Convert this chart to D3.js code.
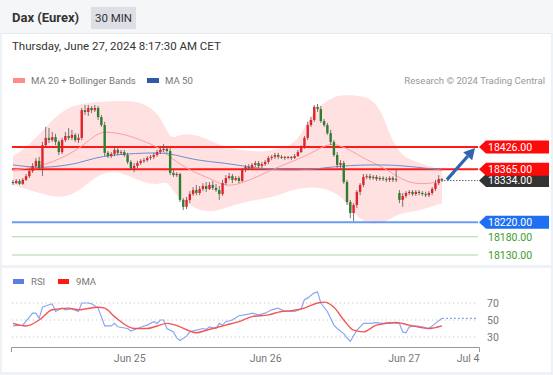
<!DOCTYPE html>
<html><head><meta charset="utf-8">
<script src="https://cdn.jsdelivr.net/npm/d3@7"></script>
<style>
html,body{margin:0;padding:0;background:#fff;}
svg{display:block;font-family:Roboto,"Liberation Sans",Arial,sans-serif;}
</style></head><body>
<svg id="c" width="553" height="375"></svg>
<script>
// ---------- DATA ----------
const title = "Dax (Eurex)";
const period = "30 MIN";
const stamp = "Thursday, June 27, 2024 8:17:30 AM CET";
const opens = [18330,18327,18333,18325,18336,18346,18360,18374,18388,18368,18431,18451,18445,18453,18440,18412,18445,18456,18451,18459,18445,18451,18527,18522,18533,18527,18533,18508,18486,18410,18401,18407,18418,18410,18412,18404,18385,18368,18374,18382,18388,18390,18396,18399,18404,18412,18418,18421,18415,18355,18349,18352,18281,18262,18281,18297,18308,18300,18311,18319,18311,18322,18314,18308,18297,18327,18341,18346,18336,18341,18333,18363,18371,18368,18377,18382,18374,18379,18385,18396,18399,18404,18399,18399,18396,18399,18396,18401,18412,18426,18451,18486,18500,18536,18530,18497,18486,18464,18440,18404,18377,18382,18330,18275,18245,18267,18303,18322,18344,18346,18341,18344,18338,18341,18338,18336,18341,18336,18300,18281,18292,18300,18303,18297,18303,18300,18297,18294,18300,18311,18327,18338];
const highs = [18336,18338,18338,18341,18352,18366,18382,18396,18399,18440,18481,18478,18467,18462,18445,18451,18467,18478,18473,18464,18462,18533,18541,18541,18538,18541,18538,18514,18495,18415,18412,18426,18423,18418,18418,18410,18390,18382,18388,18393,18396,18401,18404,18410,18418,18426,18434,18429,18423,18363,18357,18355,18286,18289,18305,18316,18322,18319,18327,18330,18330,18333,18325,18319,18336,18349,18355,18352,18346,18346,18368,18377,18379,18382,18388,18388,18385,18390,18401,18404,18410,18410,18404,18401,18401,18401,18407,18418,18431,18456,18495,18508,18541,18544,18538,18503,18492,18473,18445,18412,18390,18388,18336,18281,18272,18308,18327,18352,18352,18352,18349,18349,18346,18346,18344,18346,18346,18363,18308,18300,18305,18308,18308,18308,18308,18305,18303,18305,18316,18336,18349,18341];
const lows = [18322,18325,18322,18322,18333,18341,18355,18368,18363,18346,18426,18437,18440,18431,18404,18407,18440,18445,18445,18440,18437,18445,18514,18511,18519,18522,18500,18481,18401,18396,18396,18401,18404,18404,18399,18379,18363,18357,18368,18377,18382,18385,18390,18393,18399,18407,18412,18410,18349,18344,18344,18275,18253,18256,18272,18292,18294,18294,18305,18303,18308,18308,18303,18281,18292,18322,18336,18327,18333,18327,18330,18357,18363,18363,18371,18368,18368,18374,18379,18390,18393,18393,18393,18390,18393,18390,18393,18399,18410,18421,18445,18481,18495,18522,18492,18481,18459,18431,18399,18368,18366,18325,18267,18231,18223,18259,18294,18316,18338,18336,18336,18333,18333,18333,18330,18330,18330,18330,18272,18262,18286,18294,18292,18292,18294,18292,18289,18289,18294,18305,18322,18330];
const closes = [18327,18333,18325,18336,18346,18360,18374,18388,18368,18431,18451,18445,18453,18440,18412,18445,18456,18451,18459,18445,18451,18527,18522,18533,18527,18533,18508,18486,18410,18401,18407,18418,18410,18412,18404,18385,18368,18374,18382,18388,18390,18396,18399,18404,18412,18418,18421,18415,18355,18349,18352,18281,18262,18281,18297,18308,18300,18311,18319,18311,18322,18314,18308,18297,18327,18341,18346,18336,18341,18333,18363,18371,18368,18377,18382,18374,18379,18385,18396,18399,18404,18399,18399,18396,18399,18396,18401,18412,18426,18451,18486,18500,18536,18530,18497,18486,18464,18440,18404,18377,18382,18330,18275,18245,18267,18303,18322,18344,18346,18341,18344,18338,18341,18338,18336,18341,18336,18338,18281,18292,18300,18303,18297,18303,18300,18297,18294,18300,18311,18327,18338,18334];

const upperIdx = [0,5,10,15,20,25,30,35,40,45,48,50,55,60,65,70,75,80,85,88,90,93,95,98,100,105,110,113,115,118,120,125,131];
const upperVal = [18401,18431,18481,18527,18544,18549,18552,18552,18547,18514,18445,18459,18462,18445,18423,18418,18412,18418,18431,18459,18500,18533,18547,18563,18568,18568,18558,18514,18459,18412,18396,18379,18363];
const lowerIdx = [0,5,10,15,20,25,30,35,40,45,47,50,55,60,65,70,80,85,90,95,100,103,106,110,115,118,125,131];
const lowerVal = [18322,18308,18294,18286,18303,18344,18363,18349,18327,18322,18336,18289,18259,18245,18259,18275,18289,18308,18316,18314,18294,18259,18226,18212,18226,18245,18253,18272];
const ma20Idx = [0,10,20,25,28,35,40,45,48,55,60,65,70,75,80,85,90,95,98,103,108,113,118,122,128,131];
const ma20Val = [18363,18374,18418,18459,18470,18459,18442,18423,18396,18357,18341,18316,18327,18346,18368,18385,18404,18429,18437,18418,18390,18371,18341,18325,18325,18338];
const ma50Idx = [0,8,15,20,25,30,40,48,55,65,72,80,90,97,105,115,120,131];
const ma50Val = [18377,18368,18374,18382,18396,18404,18410,18410,18390,18382,18371,18363,18363,18371,18377,18377,18374,18363];

const levels = [18426, 18365, 18334, 18220, 18180, 18130];
const levelKinds = ["resistance","resistance","last","support","minor","minor"];

const rsiIdx = [0,3,6,7,8,9,11,12,13,14,15,16,18,20,21,23,24,26,27,28,30,31,32,35,36,38,40,41,43,44,45,46,47,49,50,51,53,54,56,58,59,60,62,63,64,65,67,69,72,73,75,77,79,81,83,86,88,89,90,92,93,94,96,98,99,101,102,103,105,106,107,109,111,113,115,118,119,120,121,123,125,127,129,131];
const rsiVal = [43,44,58,58,52,65,68,69,60,62,64,62,63,60,70,70,69,64,54,43,43,46,42,40,37,40,43,44,48,46,50,50,40,36,29,26,31,36,38,40,39,42,40,46,44,48,50,55,57,58,56,58,62,64,60,60,63,74,76,82,83,70,60,44,40,34,29,25,38,42,46,46,47,46,47,46,36,35,42,43,42,40,46,52];
const maIdx = [0,4,8,12,17,20,26,28,31,37,41,44,47,51,54,56,59,65,69,73,78,82,85,89,93,95,98,101,104,107,111,117,121,127,131];
const maVal = [46,43,50,62,64,62,65,64,54,40,40,43,46,42,37,35,38,44,48,54,56,60,61,64,70,71,65,50,38,36,44,47,44,40,43];
const rsiTicks = [70, 50, 30];

const dayLabels = ["Jun 25","Jun 26","Jun 27","Jul 4"];
const dayIdx = [35.5, 77, 119.3, 138.8];

// ---------- SCALES ----------
const svg = d3.select("#c");
const x = d3.scaleLinear().domain([-0.6, 142.3]).range([11, 479]);
const y = d3.scaleLinear().domain([18130, 18426]).range([255, 147]);
const yr = d3.scaleLinear().domain([30, 70]).range([337, 303]);

// ---------- BACKGROUND ----------
svg.append("rect").attr("width",553).attr("height",375).attr("fill","#ffffff");
svg.append("rect").attr("x",0).attr("y",0).attr("width",553).attr("height",33).attr("fill","#f5f6f8");
svg.append("line").attr("x1",0).attr("x2",553).attr("y1",33.5).attr("y2",33.5).attr("stroke","#e6e9ee");
svg.append("rect").attr("x",0).attr("y",265).attr("width",553).attr("height",3).attr("fill","#eef1f5");
svg.append("rect").attr("x",0).attr("y",372).attr("width",553).attr("height",3).attr("fill","#eef1f5");
svg.append("rect").attr("x",0).attr("y",33).attr("width",2).attr("height",342).attr("fill","#eef1f5");
svg.append("rect").attr("x",551).attr("y",33).attr("width",2).attr("height",342).attr("fill","#eef1f5");

// header
svg.append("text").attr("x",12).attr("y",22).attr("font-size",13).attr("font-weight","bold").attr("fill","#333").text(title);
svg.append("rect").attr("x",91).attr("y",7).attr("width",45).attr("height",22).attr("fill","#dcdfe5");
svg.append("text").attr("x",113.5).attr("y",22).attr("text-anchor","middle").attr("font-size",11.5).attr("fill","#333").text(period);
svg.append("text").attr("x",12).attr("y",50).attr("font-size",11.5).attr("fill","#333").text(stamp);

// legend
svg.append("rect").attr("x",13).attr("y",78).attr("width",12).attr("height",5).attr("fill","#ff8a8a");
svg.append("text").attr("x",31).attr("y",84).attr("font-size",9.6).attr("fill","#777").text("MA 20 + Bollinger Bands");
svg.append("rect").attr("x",147).attr("y",78).attr("width",12).attr("height",5).attr("fill","#2d5ba6");
svg.append("text").attr("x",165).attr("y",84).attr("font-size",9.6).attr("fill","#777").text("MA 50");
svg.append("text").attr("x",545).attr("y",84).attr("text-anchor","end").attr("font-size",9.6).attr("fill","#999").text("Research \u00a9 2024 Trading Central");

// ---------- BANDS ----------
function interp(idx, val){ return idx.map((d,i)=>({i:d, v:val[i]})); }
const up = interp(upperIdx, upperVal), lo = interp(lowerIdx, lowerVal);
const lineU = d3.line().x(d=>x(d.i)).y(d=>y(d.v)).curve(d3.curveBasis);
const pathU = lineU(up);
const pathL = lineU(lo.slice().reverse());
svg.append("path").attr("d", pathU + "L" + pathL.slice(1) + "Z").attr("fill","#ffdede").attr("opacity",0.9);

// levels (lines)
const plotL = x.range()[0]+1, plotR = x.range()[1]-1;
const lvlColor = {resistance:"#ff1a1a", last:"#333333", support:"#6a9cf5", minor:"#a8d8a0"};
const lvlWidth = {resistance:2, last:1, support:2, minor:1.2};
levels.forEach((v,k)=>{
  const kind = levelKinds[k];
  if(kind==="last") return;
  svg.append("line").attr("x1",plotL).attr("x2",plotR).attr("y1",y(v)).attr("y2",y(v))
    .attr("stroke",lvlColor[kind]).attr("stroke-width",lvlWidth[kind]);
});

// MA lines
svg.append("path").attr("d", lineU(interp(ma20Idx, ma20Val))).attr("fill","none").attr("stroke","#f7a0a0").attr("stroke-width",1);
svg.append("path").attr("d", lineU(interp(ma50Idx, ma50Val))).attr("fill","none").attr("stroke","#6f8cc8").attr("stroke-width",1);

// ---------- CANDLES ----------
const cw = 2.4;
const g = svg.append("g");
closes.forEach((c,i)=>{
  const o = opens[i], h = highs[i], l = lows[i];
  const isUp = c >= o;
  const col = isUp ? "#e3222b" : "#2f7d2f";
  g.append("line").attr("x1",x(i)).attr("x2",x(i)).attr("y1",y(h)).attr("y2",y(l)).attr("stroke","#555").attr("stroke-width",0.8);
  const top = Math.min(y(o),y(c)), hgt = Math.max(1, Math.abs(y(o)-y(c)));
  g.append("rect").attr("x",x(i)-cw/2).attr("y",top).attr("width",cw).attr("height",hgt).attr("fill",col);
});

// last price dotted line
const lastI = closes.length-1;
const lastV = levels[levelKinds.indexOf("last")];
svg.append("line").attr("x1",x(lastI)+2).attr("x2",plotR).attr("y1",y(lastV)).attr("y2",y(lastV))
  .attr("stroke","#666").attr("stroke-dasharray","1.5,1.5").attr("stroke-width",1);

// arrow
(function(){
  const x1 = x(lastI)+5, y1 = y(lastV)-1;
  const x2 = plotR-3, y2 = y(levels[0])+1;
  const ang = Math.atan2(y2-y1, x2-x1);
  const hl = 11, hw = 6;
  const bx = x2 - hl*Math.cos(ang), by = y2 - hl*Math.sin(ang);
  svg.append("line").attr("x1",x1).attr("y1",y1).attr("x2",bx).attr("y2",by).attr("stroke","#2e64b4").attr("stroke-width",3.2);
  const px = -Math.sin(ang), py = Math.cos(ang);
  svg.append("path").attr("d",`M${x2},${y2}L${bx+px*hw},${by+py*hw}L${bx-px*hw},${by-py*hw}Z`).attr("fill","#2e64b4");
})();

// level tags
const tagFill = {resistance:"#ff0a0a", last:"#333333", support:"#1f6ff2"};
const tagX = x.range()[1];
const order = [2,0,1,3,4,5];
order.forEach(k=>{
  const v = levels[k], kind = levelKinds[k], yy = y(v);
  if(tagFill[kind]){
    svg.append("path").attr("d",`M${tagX},${yy}L${tagX+7},${yy-6.5}L549,${yy-6.5}L549,${yy+6.5}L${tagX+7},${yy+6.5}Z`).attr("fill",tagFill[kind]);
    svg.append("text").attr("x",tagX+9).attr("y",yy).attr("dy","0.36em").attr("font-size",10.5).attr("fill","#fff").text(v.toFixed(2));
  } else {
    svg.append("text").attr("x",tagX+9).attr("y",yy).attr("dy","0.36em").attr("font-size",10.5).attr("fill","#3f9a2a").text(v.toFixed(2));
  }
});

// ---------- RSI PANEL ----------
svg.append("rect").attr("x",13).attr("y",279).attr("width",11).attr("height",5).attr("fill","#5b7fe6");
svg.append("text").attr("x",31).attr("y",285).attr("font-size",9.6).attr("fill","#777").text("RSI");
svg.append("rect").attr("x",58).attr("y",279).attr("width",11).attr("height",5).attr("fill","#ff1a1a");
svg.append("text").attr("x",76).attr("y",285).attr("font-size",9.6).attr("fill","#777").text("9MA");

rsiTicks.forEach(t=>{
  svg.append("line").attr("x1",plotL).attr("x2",plotR-1).attr("y1",yr(t)).attr("y2",yr(t))
    .attr("stroke","#c4c4c4").attr("stroke-dasharray","1.2,3").attr("stroke-width",1);
  svg.append("text").attr("x",tagX+8).attr("y",yr(t)).attr("dy","0.36em").attr("font-size",10.5).attr("fill","#777").text(t);
});
const lr = d3.line().x(d=>x(d.i)).y(d=>yr(d.v));
svg.append("path").attr("d", lr(interp(rsiIdx, rsiVal))).attr("fill","none").attr("stroke","#8aa6f0").attr("stroke-width",1.2);
svg.append("path").attr("d", lr.curve(d3.curveMonotoneX)(interp(maIdx, maVal))).attr("fill","none").attr("stroke","#f55555").attr("stroke-width",1.4);
const lastR = rsiVal[rsiVal.length-1];
svg.append("line").attr("x1",x(rsiIdx[rsiIdx.length-1])).attr("x2",plotR-1).attr("y1",yr(lastR)).attr("y2",yr(lastR))
  .attr("stroke","#8aa6f0").attr("stroke-dasharray","2,2").attr("stroke-width",1.2);

// x axis
const ax = d3.axisBottom(x).tickValues(dayIdx).tickFormat((d,i)=>dayLabels[i]).tickSizeInner(0).tickSizeOuter(5).tickPadding(8);
const axg = svg.append("g").attr("transform","translate(0,347)").call(ax);
axg.select(".domain").attr("stroke","#999");
axg.selectAll("text").attr("font-size",10.5).attr("fill","#777").attr("font-family","Roboto, Arial, sans-serif");
</script>
</body></html>
